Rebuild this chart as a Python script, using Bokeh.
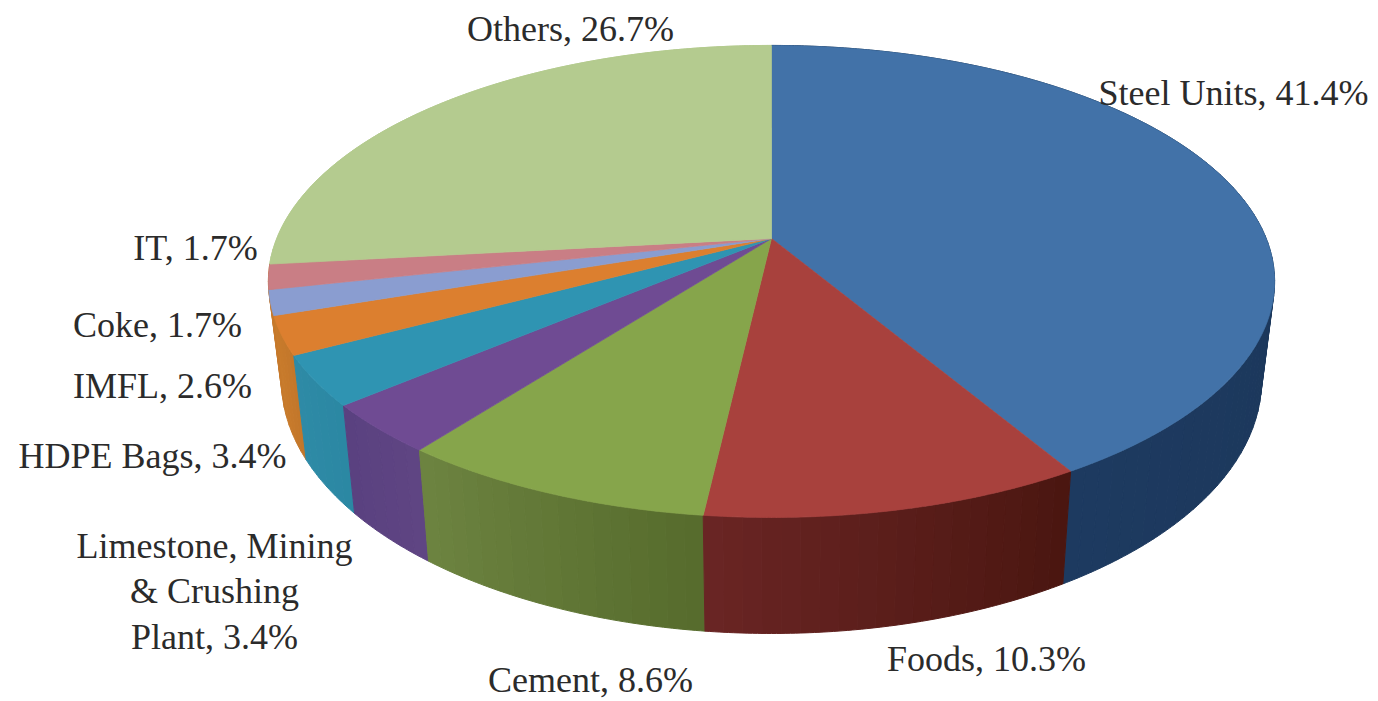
import numpy as np
from bokeh.plotting import figure
from bokeh.models import ColumnDataSource, Range1d
from bokeh.core.properties import value
from bokeh.embed import file_html
from bokeh.resources import INLINE

# ---- data ----
categories = ["Steel Units", "Foods", "Cement", "Limestone, Mining\n& Crushing\nPlant",
              "HDPE Bags", "IMFL", "Coke", "IT", "Others"]
shares = [41.4, 10.3, 8.6, 3.4, 3.4, 2.6, 1.7, 1.7, 26.7]

# ---- styles ----
top_colors = ["#4272a8", "#a8413d", "#86a54b", "#6f4b93", "#2f94b2", "#dc7f2f", "#8a9dd0", "#c97e85", "#b4cb8f"]
side_from = ["#1a3352", "#4a1610", "#566b2c", "#5f4583", "#2b88a3", "#c2772a", "#c2772a", "#c2772a", "#b4cb8f"]
side_to = ["#1d3a60", "#6a2524", "#6d8441", "#5a4180", "#2e8aa6", "#c97b2c", "#c97b2c", "#c97b2c", "#b4cb8f"]

# ---- layout: pie drawn in perspective about its apex, canvas units are page pixels ----
APEX_X, APEX_Y = 771, 238
A, B, K = 494.7, 228.2, -0.182
TOP_CY, TOP_RY = 281, 236
BOT_CY, BOT_RY, BOT_SX = 380, 253, 0.974
label_pos = [(1233, 92), (986, 658), (590, 679), (214, 591), (152, 455), (162, 385), (157, 324), (195, 247), (570, 28)]
label_lh = [1.0, 1.0, 1.0, 1.14, 1.0, 1.0, 1.0, 1.0, 1.0]


def top_rim(t):
    u, v = np.sin(t), -np.cos(t)
    w = 1 + K * v
    return APEX_X + A * u / w, APEX_Y + B * v / w


def bottom_rim(t):
    x, y = top_rim(t)
    return APEX_X + (x - APEX_X) * BOT_SX, BOT_CY + (y - TOP_CY) * BOT_RY / TOP_RY


def hex2rgb(h):
    return np.array([int(h[i:i + 2], 16) for i in (1, 3, 5)], dtype=float)


def mix(a, b, f):
    c = hex2rgb(a) * (1 - f) + hex2rgb(b) * f
    return "#%02x%02x%02x" % tuple(int(round(i)) for i in c)


edges = 2 * np.pi * np.concatenate([[0], np.cumsum(shares)]) / sum(shares)
mids = (edges[:-1] + edges[1:]) / 2
back_to_front = sorted(range(len(shares)), key=lambda i: -abs(mids[i] - np.pi))

p = figure(width=1378, height=701, output_backend="svg", toolbar_location=None,
           x_range=Range1d(0, 1378), y_range=Range1d(701, 0),
           min_border=0, outline_line_color=None, background_fill_color="white",
           border_fill_color="white", x_axis_type=None, y_axis_type=None)
p.grid.visible = False

# side wall, split in narrow strips that carry the shading
xs, ys, cs = [], [], []
for i in back_to_front:
    n = max(3, int(shares[i] * 2))
    ts = np.linspace(edges[i], edges[i + 1], n + 1)
    for j in range(n):
        tt = np.linspace(ts[j], ts[j + 1], 5)
        tx, ty = top_rim(tt)
        bx, by = bottom_rim(tt)
        xs.append(np.concatenate([tx, bx[::-1]]).tolist())
        ys.append(np.concatenate([ty, by[::-1]]).tolist())
        cs.append(mix(side_from[i], side_to[i], (j + 0.5) / n))
p.patches("x", "y", source=ColumnDataSource(dict(x=xs, y=ys, c=cs)),
          fill_color="c", line_color="c", line_width=1)

# top face
xs, ys = [], []
for i in range(len(shares)):
    tt = np.linspace(edges[i], edges[i + 1], max(4, int(shares[i] * 6)))
    tx, ty = top_rim(tt)
    xs.append([APEX_X] + tx.tolist())
    ys.append([APEX_Y] + ty.tolist())
p.patches("x", "y", source=ColumnDataSource(dict(x=xs, y=ys, c=top_colors)),
          fill_color="c", line_color="c", line_width=0.7)

# labels
labels = [f"{c}, {s}%" for c, s in zip(categories, shares)]
src = ColumnDataSource(dict(x=[q[0] for q in label_pos], y=[q[1] for q in label_pos], t=labels, lh=label_lh))
p.text(x="x", y="y", text="t", source=src,
       text_font=value("Liberation Serif"), text_font_size="36px", text_color="#2b2b2b",
       text_align="center", text_baseline="middle", text_line_height="lh")

open("out.html", "w").write(file_html(p, INLINE))
